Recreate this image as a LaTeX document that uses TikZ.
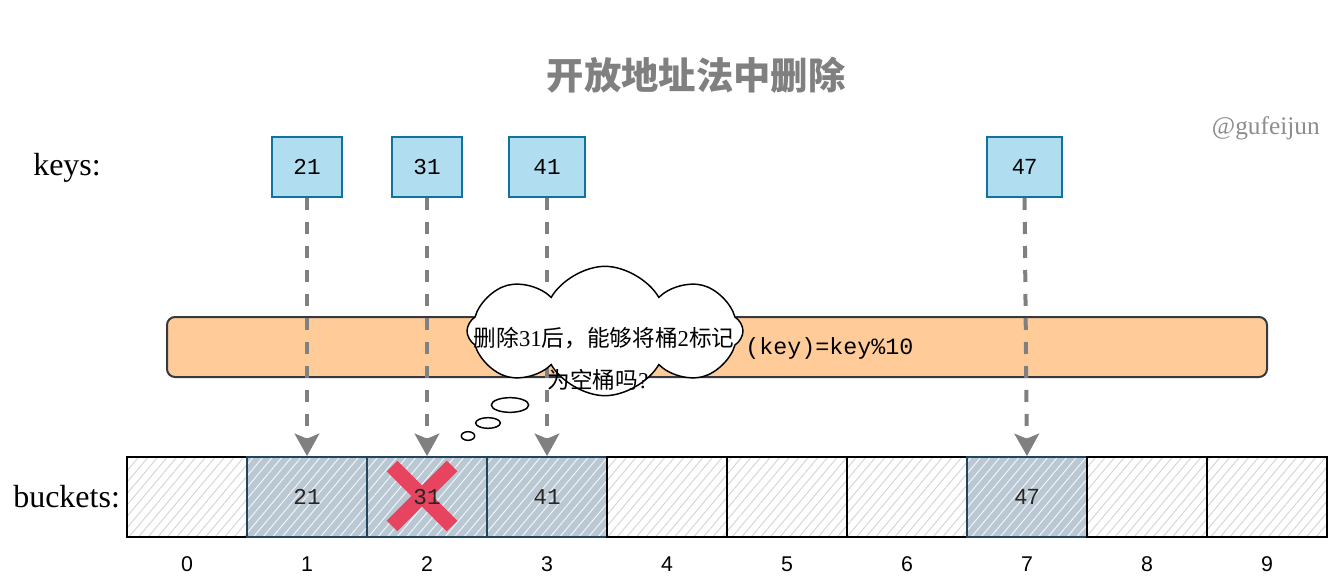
\documentclass[tikz,border=0pt]{standalone}
\usepackage{fontspec}
\setmainfont{Liberation Serif}
\newfontfamily\cjk{Noto Sans CJK SC}
\newfontfamily\mono{Liberation Mono}
\newfontfamily\sans{Liberation Sans}
\usetikzlibrary{arrows.meta,shapes.symbols,shapes.geometric,patterns.meta}
\definecolor{keyfill}{HTML}{B1DDF0}
\definecolor{keyline}{HTML}{10739E}
\definecolor{usedfill}{HTML}{BAC8D3}
\definecolor{usedline}{HTML}{23445D}
\definecolor{barfill}{HTML}{FFCC99}
\definecolor{barline}{HTML}{36393D}
\definecolor{arrowgray}{HTML}{808080}
\definecolor{hatchgray}{HTML}{D4D4D4}
\definecolor{crossred}{HTML}{E6445F}
\tikzset{
  keybox/.style={draw=keyline, fill=keyfill, line width=1.5pt, minimum height=45pt, inner sep=0pt, font=\mono\fontsize{17}{20}\selectfont},
  emptycell/.style={draw=black, line width=1.5pt, minimum width=90pt, minimum height=60pt, inner sep=0pt,
     pattern={Lines[angle=50,distance=5.5pt,line width=0.7pt]}, pattern color=hatchgray},
  usedcell/.style={draw=usedline, preaction={fill=usedfill}, line width=1.5pt, minimum width=90pt, minimum height=60pt, inner sep=0pt,
     pattern={Lines[angle=50,distance=5.5pt,line width=0.7pt]}, pattern color=white!85!usedfill,
     font=\mono\fontsize{17}{20}\selectfont, text=black!85},
  idxlabel/.style={font=\sans\fontsize{16}{19}\selectfont, inner sep=0pt},
  hasharrow/.style={draw=arrowgray, line width=3pt, dash pattern=on 9pt off 9pt,
     -{Stealth[length=17pt,width=19pt,inset=4pt,line width=0pt]}},
  bubble/.style={draw=black, fill=white, line width=1.1pt},
  sidelabel/.style={font=\fontsize{24}{28}\selectfont, inner sep=0pt},
}
\begin{document}
\begin{tikzpicture}[x=0.75pt,y=-0.75pt]
\useasboundingbox (0,0) rectangle (1334,588);
% title and credit
\node[font=\cjk\bfseries\fontsize{28}{32}\selectfont, text=arrowgray] (title) at (696,75) {开放地址法中删除};
\node[font=\fontsize{19}{22}\selectfont, text=arrowgray!90, anchor=east, inner sep=0pt] (credit) at (1320,128) {@gufeijun};
% side labels
\node[sidelabel, anchor=west] (keyslbl) at (33,168) {keys:};
\node[sidelabel, anchor=west] (bucketslbl) at (13,497) {buckets:};
% keys
\node[keybox, minimum width=52.5pt] (k21) at (307,167) {21};
\node[keybox, minimum width=52.5pt] (k31) at (427,167) {31};
\node[keybox, minimum width=57pt] (k41) at (547,167) {41};
\node[keybox, minimum width=56pt, font=\sans\fontsize{16.5}{20}\selectfont] (k47) at (1024.5,167) {47};
% hash bar
\node[draw=barline, fill=barfill, line width=1.5pt, rounded corners=6pt, minimum width=825pt, minimum height=45pt, inner sep=0pt] (bar) at (717,347) {};
\node[font=\mono\fontsize{17.5}{20}\selectfont, anchor=west, inner sep=0pt] (bartext) at (745,348) {(key)=key\%10};
% buckets
\node[emptycell] (b0) at (187,497) {};
\node[usedcell] (b1) at (307,497) {21};
\node[usedcell] (b2) at (427,497) {};
\node[usedcell] (b3) at (547,497) {41};
\node[emptycell] (b4) at (667,497) {};
\node[emptycell] (b5) at (787,497) {};
\node[emptycell] (b6) at (907,497) {};
\node[usedcell, font=\sans\fontsize{16.5}{20}\selectfont] (b7) at (1027,497) {47};
\node[emptycell] (b8) at (1147,497) {};
\node[emptycell] (b9) at (1267,497) {};
\foreach \i in {0,...,9}{
  \node[idxlabel] (i\i) at (187+120*\i,564) {\i};
}
% arrows
\draw[hasharrow] (k21.south) -- (b1.north);
\draw[hasharrow] (k31.south) -- (b2.north);
\draw[hasharrow] (k41.south) -- (b3.north);
\draw[hasharrow] (k47.south) -- (b7.north);
% thought cloud
\node[cloud, cloud puffs=8, cloud puff arc=120, aspect=2.1, draw=black, fill=white, line width=1.1pt,
      minimum width=207pt, minimum height=97pt, inner sep=0pt] (cloud) at (605,331) {};
\node[font=\cjk\fontsize{17}{20}\selectfont, inner sep=0pt] (ct1) at (604,338) {删除{\rmfamily 31}后，能够将桶{\rmfamily 2}标记};
\node[font=\cjk\fontsize{17}{20}\selectfont, inner sep=0pt] (ct2) at (598,380) {为空桶吗{\rmfamily ?}};
\node[ellipse, bubble, minimum width=28pt, minimum height=11pt, inner sep=0pt] (e1) at (510,405) {};
\node[ellipse, bubble, minimum width=18.5pt, minimum height=8pt, inner sep=0pt] (e2) at (488,423) {};
\node[ellipse, bubble, minimum width=10pt, minimum height=6.5pt, inner sep=0pt] (e3) at (468,436) {};
% red cross over bucket 2, value printed on top
\draw[crossred, line width=11.25pt] (392,466) -- (452,526);
\draw[crossred, line width=11.25pt] (392,526) -- (452,466);
\node[font=\mono\fontsize{17}{20}\selectfont, text=black!85, inner sep=0pt] (t31) at (b2.center) {31};
\end{tikzpicture}
\end{document}
